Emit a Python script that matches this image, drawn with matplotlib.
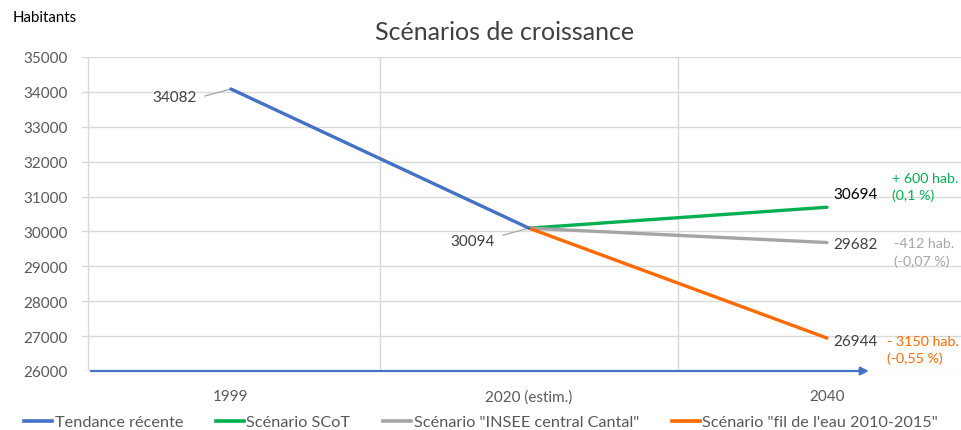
import numpy as np
import matplotlib
matplotlib.use("Agg")
import matplotlib.pyplot as plt
from matplotlib.lines import Line2D

plt.rcParams['font.family'] = ['Lato', 'DejaVu Sans']

# data
categories = ["1999", "2020 (estim.)", "2040"]
tendance = [34082, 30094, np.nan]
scot = [np.nan, 30094, 30694]
insee = [np.nan, 30094, 29682]
fil_eau = [np.nan, 30094, 26944]
series_names = ["Tendance récente", "Scénario SCoT",
                "Scénario \"INSEE central Cantal\"", "Scénario \"fil de l'eau 2010-2015\""]
deltas = ["+ 600 hab.\n(0,1 %)", "-412 hab.\n(-0,07 %)", "- 3150 hab.\n(-0,55 %)"]

c_blue = "#4472C4"
c_green = "#00B050"
c_gray = "#A5A5A5"
c_orange = "#FF6A00"
txt = "#404040"

W, H = 962, 431
fig = plt.figure(figsize=(W / 100, H / 100), dpi=100)
ax = fig.add_axes([82 / W, (H - 372) / H, (W - 82) / W, (372 - 58) / H])

x = np.arange(len(categories))
ax.plot(x, tendance, color=c_blue, lw=2.4, solid_capstyle='round', zorder=4)
ax.plot(x, scot, color=c_green, lw=2.4, solid_capstyle='round', zorder=3)
ax.plot(x, insee, color=c_gray, lw=2.4, solid_capstyle='round', zorder=3)
ax.plot(x, fil_eau, color=c_orange, lw=2.4, solid_capstyle='round', zorder=3)

ax.set_xlim(-0.5, 1 + (W - 529) / 298)
ax.set_ylim(26000, 35000)
ax.set_yticks(np.arange(26000, 35001, 1000))
ax.set_xticks(x)
ax.set_xticklabels(categories)
ax.tick_params(axis='both', length=0, labelsize=11, labelcolor="#595959")
ax.tick_params(axis='y', pad=10)
ax.tick_params(axis='x', pad=13)

# grid
ax.set_xticks([0.5, 1.5], minor=True)
ax.grid(axis='y', color="#D9D9D9", lw=1)
ax.grid(axis='x', which='minor', color="#D9D9D9", lw=1)
ax.tick_params(axis='x', which='minor', length=0)
ax.set_axisbelow(True)
for s in ax.spines.values():
    s.set_visible(False)
ax.axvline(-0.48, color="#D9D9D9", lw=1, zorder=0)

# blue axis arrow
ax.annotate("", xy=(2.15, 26000), xytext=(-0.48, 26000),
            arrowprops=dict(arrowstyle="-|>", color=c_blue, lw=1.6, mutation_scale=12),
            annotation_clip=False, zorder=5)

# data labels with leader lines
ax.annotate(str(tendance[0]), xy=(0, tendance[0]), xytext=(-0.19, 33860),
            ha='center', va='center', fontsize=11, color=txt,
            arrowprops=dict(arrowstyle="-", color=c_gray, lw=0.9, shrinkA=4, shrinkB=0,
                            connectionstyle="angle,angleA=0,angleB=15,rad=0"))
ax.annotate(str(tendance[1]), xy=(1, tendance[1]), xytext=(0.81, 29740),
            ha='center', va='center', fontsize=11, color=txt,
            arrowprops=dict(arrowstyle="-", color=c_gray, lw=0.9, shrinkA=4, shrinkB=0,
                            connectionstyle="angle,angleA=0,angleB=15,rad=0"))

ends = [scot[2], insee[2], fil_eau[2]]
offs = [370, -40, -80]
end_cols = ["#000000", txt, txt]
for v, o, c in zip(ends, offs, end_cols):
    ax.text(2.02, v + o, str(v), ha='left', va='center', fontsize=11, color=c)

dcols = [c_green, c_gray, c_orange]
dx = [2.218, 2.226, 2.203]
dy = [31290, 29410, 26616]
for t, c, xx, yy in zip(deltas, dcols, dx, dy):
    ax.text(xx, yy, t, ha='left', va='center', fontsize=10.3, color=c, linespacing=1.45)

fig.text(505 / W, 1 - 32 / H, "Scénarios de croissance", ha='center', va='center',
         fontsize=18, color=txt)
fig.text(13 / W, 1 - 18 / H, "Habitants", ha='left', va='center', fontsize=10.8, color="#000000")

handles = [Line2D([], [], color=c, lw=2.6) for c in [c_blue, c_green, c_gray, c_orange]]
fig.legend(handles, series_names, loc='center', bbox_to_anchor=(0.5, 1 - 423 / H),
           ncol=4, frameon=False, fontsize=11.7, handlelength=1.75, handletextpad=0.15,
           columnspacing=2.0, labelcolor="#595959")

fig.savefig("out.png", dpi=100)
